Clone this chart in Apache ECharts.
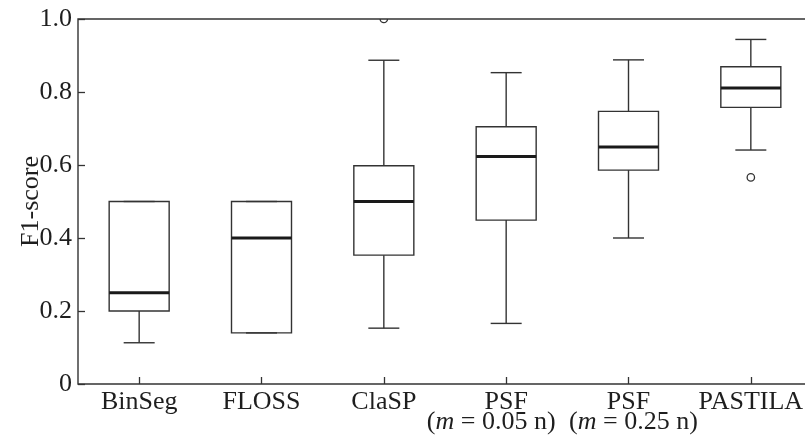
<!DOCTYPE html>
<html>
<head>
<meta charset="utf-8">
<script src="https://cdn.jsdelivr.net/npm/echarts@6/dist/echarts.min.js"></script>
<style>html,body{margin:0;padding:0;background:#fff;}#c{width:805px;height:439px;}</style>
</head>
<body>
<div id="c"></div>
<script>
var categories = ['BinSeg', 'FLOSS', 'ClaSP', 'PSF|0.05', 'PSF|0.25', 'PASTILA'];
var mins    = [0.113, 0.140, 0.153, 0.166, 0.400, 0.641];
var q1s     = [0.200, 0.140, 0.353, 0.449, 0.586, 0.758];
var medians = [0.250, 0.400, 0.500, 0.623, 0.649, 0.811];
var q3s     = [0.500, 0.500, 0.598, 0.705, 0.747, 0.869];
var maxs    = [0.500, 0.500, 0.887, 0.853, 0.888, 0.944];
var outliers = [[2, 1.0], [5, 0.566]];
var yTicks = [0, 0.2, 0.4, 0.6, 0.8, 1.0];

var FONT = "'Liberation Serif','Times New Roman',serif";
var FS = 26;
var TXT = '#1e1e1e';
var LINE = '#333';

var boxData = categories.map(function (c, i) {
  return [i, mins[i], q1s[i], medians[i], q3s[i], maxs[i]];
});

function renderBox(params, api) {
  var i = api.value(0);
  var pMin = api.coord([i, api.value(1)]);
  var pQ1 = api.coord([i, api.value(2)]);
  var pMed = api.coord([i, api.value(3)]);
  var pQ3 = api.coord([i, api.value(4)]);
  var pMax = api.coord([i, api.value(5)]);
  var x = pMed[0];
  var hw = 30, cw = 15.5;
  var ls = {stroke: LINE, lineWidth: 1.4, fill: null};
  return {
    type: 'group',
    children: [
      {type: 'line', shape: {x1: x, y1: pQ3[1], x2: x, y2: pMax[1]}, style: ls},
      {type: 'line', shape: {x1: x, y1: pQ1[1], x2: x, y2: pMin[1]}, style: ls},
      {type: 'line', shape: {x1: x - cw, y1: pMax[1], x2: x + cw, y2: pMax[1]}, style: ls},
      {type: 'line', shape: {x1: x - cw, y1: pMin[1], x2: x + cw, y2: pMin[1]}, style: ls},
      {type: 'rect', shape: {x: x - hw, y: pQ3[1], width: 2 * hw, height: pQ1[1] - pQ3[1]}, style: {stroke: LINE, lineWidth: 1.4, fill: 'rgba(0,0,0,0)'}},
      {type: 'line', shape: {x1: x - hw, y1: pMed[1], x2: x + hw, y2: pMed[1]}, style: {stroke: '#1a1a1a', lineWidth: 3}}
    ]
  };
}

function renderOutlier(params, api) {
  var p = api.coord([api.value(0), api.value(1)]);
  return {
    type: 'circle',
    shape: {cx: p[0], cy: p[1], r: 3.7},
    style: {stroke: LINE, lineWidth: 1.3, fill: 'rgba(0,0,0,0)'}
  };
}

var chart = echarts.init(document.getElementById('c'), null, {renderer: 'canvas'});
chart.setOption({
  backgroundColor: '#fff',
  animation: false,
  grid: {left: 78, top: 19, bottom: 55, width: 734, containLabel: false, outerBoundsMode: 'none', show: true, borderColor: LINE, borderWidth: 1.4, backgroundColor: 'rgba(0,0,0,0)'},
  xAxis: {
    type: 'category',
    data: categories,
    boundaryGap: true,
    axisLine: {show: false},
    axisTick: {show: true, inside: true, alignWithLabel: true, length: 7, lineStyle: {color: LINE, width: 1.3}},
    splitLine: {show: false},
    axisLabel: {
      interval: 0,
      hideOverlap: false,
      margin: 8,
      color: TXT,
      fontFamily: FONT,
      fontSize: FS,
      lineHeight: 20,
      formatter: function (v) {
        var parts = v.split('|');
        if (parts.length === 1) return '{n|' + v + '}';
        if (parts[1] === '0.05') return '{n|' + parts[0] + '}\n{p|(}{i|m}{pr| = ' + parts[1] + ' n)}';
        return '{n|' + parts[0] + '}\n{pl|(}{i|m}{p| = ' + parts[1] + ' n)}';
      },
      rich: {
        n: {fontFamily: FONT, fontSize: FS, lineHeight: 20, color: TXT},
        p: {fontFamily: FONT, fontSize: FS, lineHeight: 20, color: TXT},
        pr: {fontFamily: FONT, fontSize: FS, lineHeight: 20, color: TXT, padding: [0, 30, 0, 0]},
        pl: {fontFamily: FONT, fontSize: FS, lineHeight: 20, color: TXT, padding: [0, 0, 0, 10]},
        i: {fontFamily: FONT, fontSize: FS, lineHeight: 20, color: TXT, fontStyle: 'italic'}
      }
    }
  },
  yAxis: {
    type: 'value',
    min: 0,
    max: 1,
    interval: 0.2,
    name: 'F1-score',
    nameLocation: 'middle',
    nameGap: 34,
    nameMoveOverlap: false,
    nameTextStyle: {fontFamily: FONT, fontSize: FS, color: TXT},
    axisLine: {show: false},
    axisTick: {show: true, inside: true, length: 7, lineStyle: {color: LINE, width: 1.3}},
    splitLine: {show: false},
    axisLabel: {
      margin: 6,
      color: TXT,
      fontFamily: FONT,
      fontSize: FS,
      formatter: function (v) {
        for (var k = 0; k < yTicks.length; k++) {
          if (Math.abs(yTicks[k] - v) < 1e-9) return v === 0 ? '0' : v.toFixed(1);
        }
        return '';
      }
    }
  },
  series: [
    {
      type: 'custom',
      renderItem: renderBox,
      encode: {x: 0, y: [1, 2, 3, 4, 5]},
      data: boxData,
      z: 3
    },
    {
      type: 'custom',
      renderItem: renderOutlier,
      encode: {x: 0, y: 1},
      data: outliers,
      clip: true,
      z: 2
    }
  ]
});
</script>
</body>
</html>
